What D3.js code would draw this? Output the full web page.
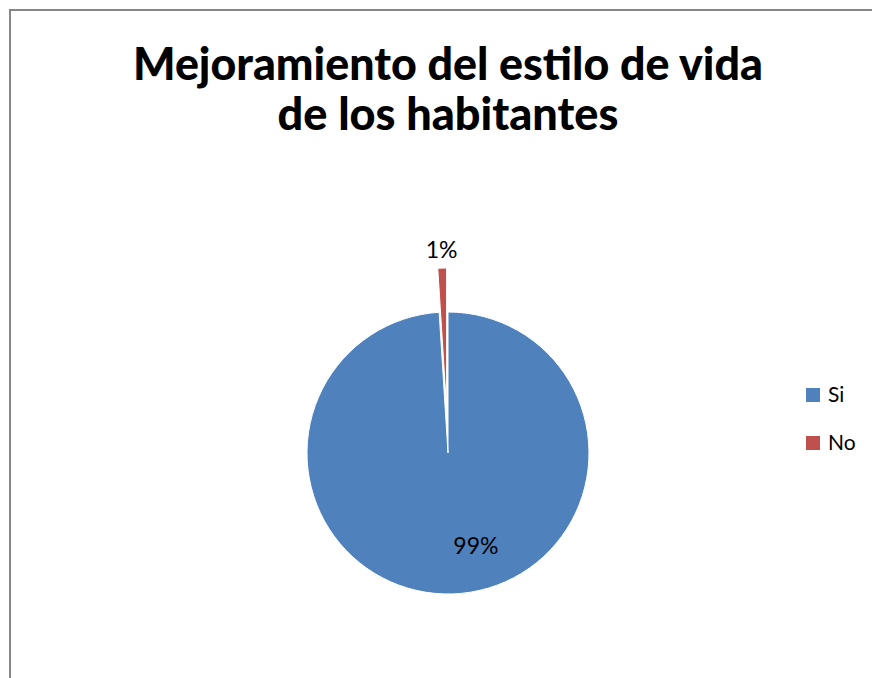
<!DOCTYPE html>
<html>
<head>
<meta charset="utf-8">
<script src="https://cdn.jsdelivr.net/npm/d3@7"></script>
<style>
  html, body { margin: 0; padding: 0; background: #fff; }
  svg { display: block; }
</style>
</head>
<body>
<script>
// Survey answers
const categories = ["Si", "No"];
const values = [99, 1];
const percentLabels = ["99%", "1%"];
const titleLines = ["Mejoramiento del estilo de vida", "de los habitantes"];
const colors = ["#4F81BD", "#C0504D"];

const W = 872, H = 678;
const FONT = "Lato, 'Open Sans', sans-serif";

const svg = d3.select("body").append("svg")
  .attr("width", W).attr("height", H);

// Chart area frame (runs past the right and bottom edges)
svg.append("rect")
  .attr("x", 10).attr("y", 10)
  .attr("width", W + 20).attr("height", H + 20)
  .attr("fill", "#fff")
  .attr("stroke", "#878787")
  .attr("stroke-width", 2);

// Title, fitted to its line widths
const titleWidths = [630, 341];
const titleBase = [80, 130];
titleLines.forEach((line, i) => {
  const t = svg.append("text")
    .attr("x", 448).attr("y", titleBase[i])
    .attr("text-anchor", "middle")
    .attr("font-family", FONT)
    .attr("font-weight", 900)
    .attr("font-size", 40)
    .attr("fill", "#000")
    .text(line);
  const w = t.node().getComputedTextLength();
  t.attr("font-size", 40 * titleWidths[i] / w);
});

// Pie
const cx = 448, cy = 453, r = 141;
const explode = [0, 44];

const pie = d3.pie().sort(null).value(d => d)(values);
const arc = d3.arc().innerRadius(0).outerRadius(r);

const g = svg.append("g").attr("transform", `translate(${cx},${cy})`);

const mid = d => (d.startAngle + d.endAngle) / 2;

g.selectAll("path.slice")
  .data(pie)
  .join("path")
  .attr("class", "slice")
  .attr("d", arc)
  .attr("fill", (d, i) => colors[i])
  .attr("stroke", "#fff")
  .attr("stroke-width", 1)
  .attr("transform", (d, i) => {
    const a = mid(d), o = explode[i];
    return `translate(${Math.sin(a) * o},${-Math.cos(a) * o})`;
  });

// Data labels: polar placement around each slice's bisector
const labelRadius = [97, 203];
const labelTurn = [-0.26, 0];
g.selectAll("text.lbl")
  .data(pie)
  .join("text")
  .attr("class", "lbl")
  .attr("x", (d, i) => Math.sin(mid(d) + labelTurn[i]) * labelRadius[i])
  .attr("y", (d, i) => -Math.cos(mid(d) + labelTurn[i]) * labelRadius[i])
  .attr("dy", "0.35em")
  .attr("text-anchor", "middle")
  .attr("font-family", FONT)
  .attr("font-size", 23)
  .attr("fill", "#000")
  .text((d, i) => percentLabels[i]);

// Legend
const legend = svg.append("g").attr("transform", "translate(806,388)");
const rowH = 48;
categories.forEach((c, i) => {
  const row = legend.append("g").attr("transform", `translate(0,${i * rowH})`);
  row.append("rect")
    .attr("width", 14).attr("height", 14)
    .attr("fill", colors[i]);
  row.append("text")
    .attr("x", 22).attr("y", 14)
    .attr("font-family", FONT)
    .attr("font-size", 21)
    .attr("fill", "#000")
    .text(c);
});
</script>
</body>
</html>
